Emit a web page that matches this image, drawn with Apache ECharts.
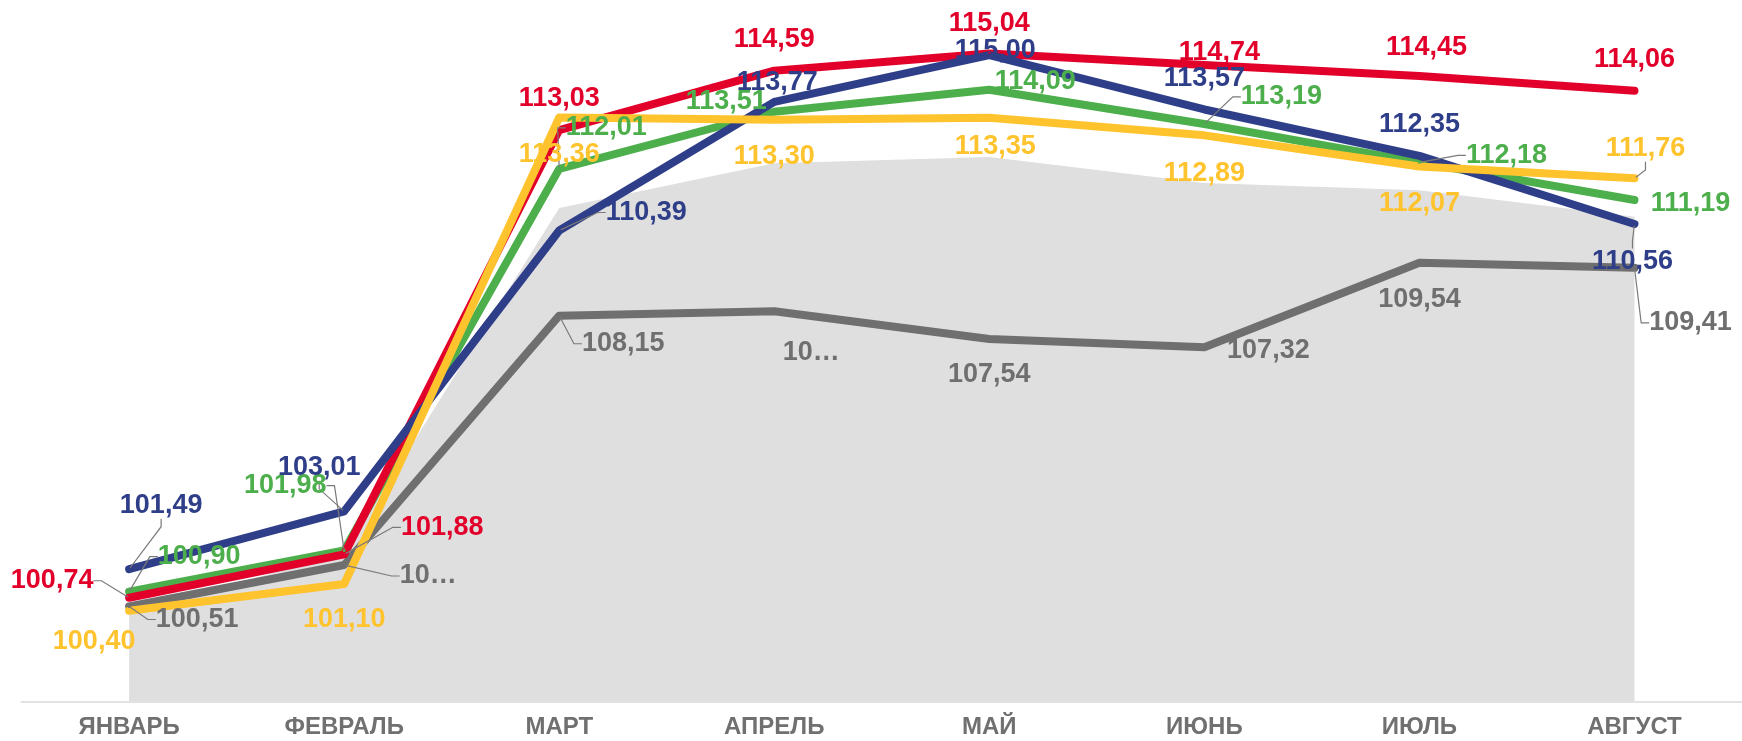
<!DOCTYPE html>
<html><head><meta charset="utf-8">
<script src="https://cdn.jsdelivr.net/npm/echarts@6/dist/echarts.min.js"></script>
<style>html,body{margin:0;padding:0;background:#fff}#c{width:1742px;height:741px}</style>
</head><body><div id="c"></div>
<script>
// ---- data ----
const categories = ['ЯНВАРЬ','ФЕВРАЛЬ','МАРТ','АПРЕЛЬ','МАЙ','ИЮНЬ','ИЮЛЬ','АВГУСТ'];
const redValues    = [100.74,101.88,113.03,114.59,115.04,114.74,114.45,114.06];
const blueValues   = [101.49,103.01,110.39,113.77,115.00,113.57,112.35,110.56];
const greenValues  = [100.90,101.98,112.01,113.51,114.09,113.19,112.18,111.19];
const yellowValues = [100.40,101.10,113.36,113.30,113.35,112.89,112.07,111.76];
const grayValues   = [100.51,101.60,108.15,108.27,107.54,107.32,109.54,109.41];
const areaValues   = [100.35,101.90,110.98,112.16,112.32,111.64,111.45,110.75];

// ---- label layout (offsets of label centre from point, leader line flags) ----
const labelOffsets = {
  red:    [[-77,-17],[98,-27],[0,-31],[0,-31],[0,-30],[15,-12],[7,-28],[0,-31]],
  blue:   [[32,-64],[-25,-44],[87,-18],[3,-19],[6,-5],[0,-31],[0,-31],[-2,38]],
  green:  [[70,-35],[-59,-65],[47,-41],[-48,-10],[46,-8],[77,-27],[87,-7],[56,3]],
  yellow: [[-35,31],[0,36],[0,37],[0,37],[6,29],[0,38],[0,37],[11,-30]],
  gray:   [[68,13],[84,11],[64,28],[37,41],[0,36],[64,3],[0,37],[56,55]]
};
const leaders = {
  red:    [1,1,0,0,0,0,0,0],
  blue:   [1,1,1,0,0,0,0,1],
  green:  [1,1,1,0,0,1,1,0],
  yellow: [0,0,0,0,0,0,0,1],
  gray:   [1,1,1,0,0,0,0,1]
};
const truncated = { gray: [0,1,0,1,0,0,0,0] };

const colors = { red:'#E2002B', blue:'#2F3E88', green:'#4DAF4C', yellow:'#FFC32E', gray:'#6F6F6F', area:'#DFDFDF' };
const FONT = "'Liberation Sans', Arial, sans-serif";

function fmt(v){ return v.toFixed(2).replace('.', ','); }

function makeLine(key, values){
  const offs = labelOffsets[key];
  const lead = leaders[key];
  const trunc = truncated[key] || [];
  return {
    type: 'line',
    name: key,
    data: values.map((v,i)=>{
      const item = { value: v, labelLine: { show: !!lead[i] } };
      if (trunc[i]) item.label = { width: 64, overflow: 'truncate', ellipsis: '…' };
      return item;
    }),
    symbol: 'circle',
    symbolSize: 3,
    showSymbol: true,
    itemStyle: { color: colors[key] },
    lineStyle: { color: colors[key], width: 8, cap: 'round', join: 'round' },
    label: {
      show: true,
      position: 'inside',
      formatter: p => fmt(p.value),
      color: colors[key],
      fontFamily: FONT,
      fontWeight: 'bold',
      fontSize: 27,
      align: 'center',
      verticalAlign: 'middle'
    },
    labelLine: { show: false, length2: 8, lineStyle: { color: '#7a7a7a', width: 1.2 } },
    labelLayout: function(p){
      const o = offs[p.dataIndex];
      return {
        x: p.rect.x + p.rect.width/2 + o[0],
        y: p.rect.y + p.rect.height/2 + o[1],
        align: 'center',
        verticalAlign: 'middle'
      };
    },
    emphasis: { disabled: true },
    animation: false
  };
}

const chart = echarts.init(document.getElementById('c'), null, { renderer: 'canvas' });
chart.setOption({
  backgroundColor: '#ffffff',
  animation: false,
  grid: { left: 21.6, right: -13, top: 17, bottom: 39, containLabel: false },
  xAxis: {
    type: 'category',
    data: categories,
    boundaryGap: true,
    axisTick: { show: false },
    axisLine: { show: true, lineStyle: { color: '#E2E2E2', width: 2 } },
    axisLabel: { color: '#707070', fontSize: 24, fontWeight: 'bold', fontFamily: FONT, margin: 13, interval: 0 },
    splitLine: { show: false },
    z: 10
  },
  yAxis: { type: 'value', min: 98, max: 116, show: false },
  series: [
    {
      type: 'line', name: 'area', data: areaValues,
      symbol: 'none', lineStyle: { width: 0 },
      areaStyle: { color: colors.area, opacity: 1 },
      emphasis: { disabled: true }, silent: true, z: 1
    },
    makeLine('gray', grayValues),
    makeLine('green', greenValues),
    makeLine('red', redValues),
    makeLine('blue', blueValues),
    makeLine('yellow', yellowValues)
  ]
});
</script>
</body></html>
